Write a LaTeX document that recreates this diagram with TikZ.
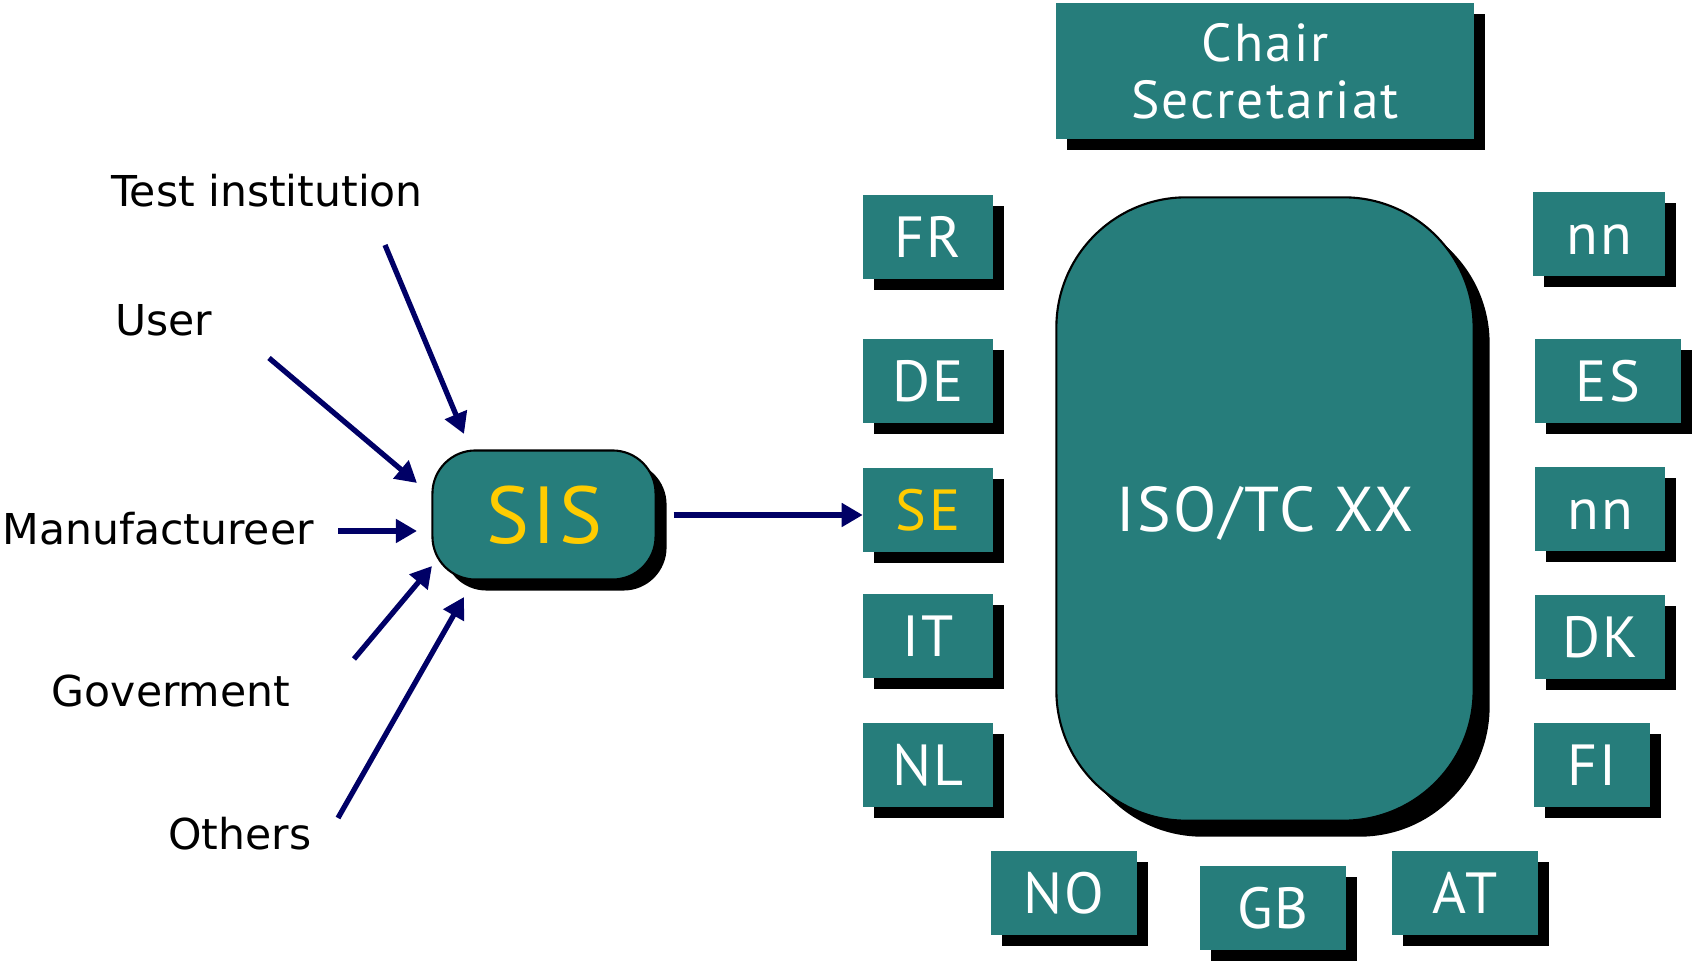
\documentclass[tikz,border=0pt]{standalone}
\usepackage{fontspec}
\setmainfont{DejaVu Sans}
\newfontfamily\boxfont[LetterSpace=4]{PT Sans}
\usetikzlibrary{arrows.meta,shadows}
\definecolor{tealbox}{RGB}{38,125,123}
\definecolor{sisyellow}{RGB}{255,204,0}
\definecolor{navyarrow}{RGB}{0,0,102}
\begin{document}
\begin{tikzpicture}[x=0.01cm,y=-0.01cm,
	member/.style={fill=tealbox,text=white,inner sep=0pt,
		font=\boxfont\fontsize{16.5}{17.5}\selectfont,text height=11.5pt,text depth=0pt,
		minimum width=1.29cm,minimum height=0.84cm,
		drop shadow={shadow xshift=0.11cm,shadow yshift=-0.11cm,fill=black,opacity=1}},
	source/.style={font=\fontsize{12.1}{14}\selectfont},
	feed/.style={draw=navyarrow,line width=1.5pt,-{Triangle[length=6pt,width=6.5pt]}}]
	\useasboundingbox (0,0) rectangle (1693,961);
	\node[member,minimum width=4.18cm,minimum height=1.35cm,align=center,text height=,text depth=,
		font=\boxfont\fontsize{15.2}{16.3}\selectfont] (chair) at (1265,71) {Chair\\Secretariat};
	\node[member,draw=black,line width=0.6pt,rounded corners=1.3cm,minimum width=4.17cm,minimum height=6.23cm,
		drop shadow={shadow xshift=0.16cm,shadow yshift=-0.16cm,fill=black,opacity=1},
		font=\boxfont\fontsize{18}{20}\selectfont,text height=12.6pt] (tc) at (1265,509) {ISO/TC XX};
	\node[member] (fr) at (928,237) {FR};
	\node[member] (de) at (928,381) {DE};
	\node[member,text=sisyellow] (se) at (928,510) {SE};
	\node[member] (it) at (928,636) {IT};
	\node[member] (nl) at (928,765) {NL};
	\node[member,minimum width=1.32cm] (nna) at (1599,234) {nn};
	\node[member,minimum width=1.45cm] (es) at (1608,381) {ES};
	\node[member] (nnb) at (1600,509) {nn};
	\node[member] (dk) at (1600,637) {DK};
	\node[member,minimum width=1.15cm] (fi) at (1592,765) {FI};
	\node[member,minimum width=1.45cm] (no) at (1064,893) {NO};
	\node[member,minimum width=1.45cm] (gb) at (1273,908) {GB};
	\node[member,minimum width=1.45cm] (at) at (1465,893) {AT};
	\node[member,draw=black,line width=0.6pt,rounded corners=0.43cm,minimum width=2.23cm,minimum height=1.29cm,
		text=sisyellow,font=\boxfont\fontsize{23}{25}\selectfont,text height=16pt] (sis) at (544,515) {SIS};
	\node[source] (test) at (267,191) {Test institution};
	\node[source] (user) at (164,320) {User};
	\node[source] (manu) at (158,529) {Manufactureer};
	\node[source] (gov) at (171,691) {Goverment};
	\node[source] (oth) at (240,834) {Others};
	\coordinate (testtail) at (385,245);
	\coordinate (testhead) at (464,434);
	\coordinate (usertail) at (269,358);
	\coordinate (userhead) at (417,483);
	\coordinate (manutail) at (338,531);
	\coordinate (manuhead) at (417,531);
	\coordinate (govtail) at (354,659);
	\coordinate (govhead) at (432,566);
	\coordinate (othtail) at (338,818);
	\coordinate (othhead) at (464,597);
	\draw[feed] (testtail) -- (testhead);
	\draw[feed] (usertail) -- (userhead);
	\draw[feed] (manutail) -- (manuhead);
	\draw[feed] (govtail) -- (govhead);
	\draw[feed] (othtail) -- (othhead);
	\draw[feed,shorten <=0.17cm] (sis.east) -- (sis.east -| se.west);
\end{tikzpicture}
\end{document}
